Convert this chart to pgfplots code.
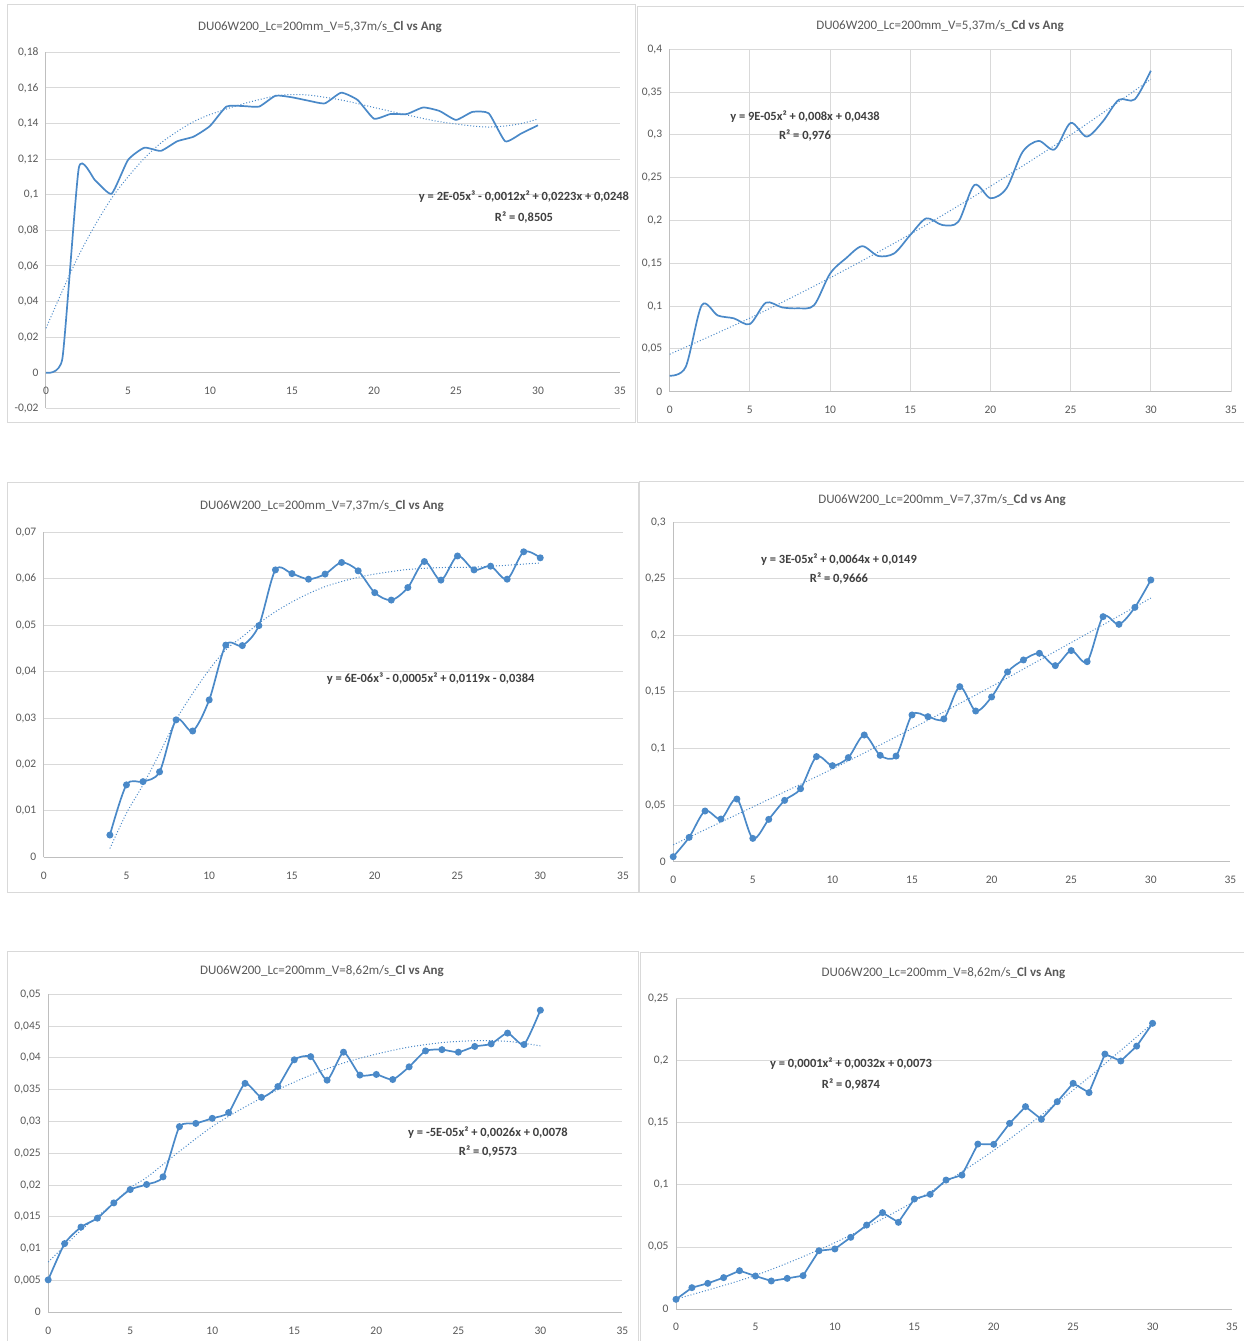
\documentclass[border=0pt]{standalone}
\usepackage{pgfplots}
\pgfplotsset{compat=1.18}
\usepackage{fontspec}
\setmainfont{Carlito}
\definecolor{xl}{HTML}{4A89C8}
\definecolor{gridgray}{HTML}{D9D9D9}
\definecolor{axgray}{HTML}{BFBFBF}
\definecolor{labgray}{HTML}{595959}
\definecolor{eqgray}{HTML}{404040}
\pgfplotsset{
  excel/.style={
    scale only axis,
    anchor=south west,
    axis x line*=middle, axis y line*=left,
    hide obscured x ticks=false, hide obscured y ticks=false,
    axis line style={draw=axgray, line width=1pt},
    ymajorgrids, major grid style={draw=gridgray, line width=1pt},
    major tick length=0pt,
    scaled y ticks=false, scaled x ticks=false,
    xmin=0, xmax=35, xtick={0,5,10,15,20,25,30,35},
    tick label style={font=\fontsize{11.5}{13}\selectfont, text=labgray},
    xticklabel style={yshift=-11pt},
    yticklabel style={xshift=-4pt},
    /pgf/number format/assume math mode=true,
    /pgf/number format/use comma,
    /pgf/number format/fixed,
    /pgf/number format/precision=3,
    clip=false,
  },
  dataline/.style={color=xl, line width=1.7pt},
  trend/.style={color=xl, line width=1pt, dotted, smooth},
  mk/.style={mark=*, mark size=2.6pt, mark options={fill=xl, draw=xl, solid}},
}
\newcommand{\ttl}[1]{\fontsize{13}{15}\selectfont\color{labgray}#1}
\newcommand{\eqf}{\bfseries\fontsize{12.5}{14}\selectfont\color{eqgray}}
\begin{document}
\begin{tikzpicture}[x=1pt,y=1pt]
\useasboundingbox (0,0) rectangle (1244,1341);
\clip (0,0) rectangle (1244,1341);
% chart frames
\draw[gridgray, line width=1pt] (7,918) rectangle (635,1336);
\draw[gridgray, line width=1pt] (637,918) rectangle (1260,1334);
\draw[gridgray, line width=1pt] (7,448) rectangle (638,858);
\draw[gridgray, line width=1pt] (639,448) rectangle (1260,859);
\draw[gridgray, line width=1pt] (7,-5) rectangle (638,389);
\draw[gridgray, line width=1pt] (640,-5) rectangle (1260,388);

% ---------- Panel 1 ----------
\node at (320,1314) {\ttl{DU06W200\_Lc=200mm\_V=5,37m/s\_\textbf{Cl vs Ang}}};
\begin{axis}[excel, at={(46pt,932.7pt)}, width=574pt, height=356pt,
  ymin=-0.02, ymax=0.18,
  ytick={-0.02,0,0.02,0.04,0.06,0.08,0.1,0.12,0.14,0.16,0.18},
  yticklabels={{-0,02},0,{0,02},{0,04},{0,06},{0,08},{0,1},{0,12},{0,14},{0,16},{0,18}}]
\addplot[dataline, smooth, tension=0.3] coordinates {
(0,0) (1,0.008) (2,0.115) (3,0.108) (4,0.1005) (5,0.1195) (6,0.1264) (7,0.1246)
(8,0.13) (9,0.1326) (10,0.1386) (11,0.1495) (12,0.1498) (13,0.1495) (14,0.1556)
(15,0.1547) (16,0.1528) (17,0.1513) (18,0.1573) (19,0.1532) (20,0.1427) (21,0.1453)
(22,0.1453) (23,0.149) (24,0.147) (25,0.142) (26,0.1465) (27,0.1457) (28,0.13)
(29,0.1345) (30,0.139)};
\addplot[trend] coordinates {
(0,0.025) (1,0.046) (2,0.066) (3,0.083) (4,0.098) (5,0.110) (6,0.1205) (7,0.129)
(8,0.1355) (9,0.141) (10,0.145) (12,0.151) (14,0.1555) (15,0.1562) (16,0.156)
(18,0.1532) (20,0.149) (22,0.1448) (24,0.141) (26,0.1386) (27,0.138) (28,0.1386)
(29,0.140) (30,0.1425)};
\end{axis}
\node[font=\eqf] at (524,1144) {y = 2E-05x³ - 0,0012x² + 0,0223x + 0,0248};
\node[font=\eqf] at (524,1124) {R² = 0,8505};

% ---------- Panel 2 ----------
\node at (940,1315) {\ttl{DU06W200\_Lc=200mm\_V=5,37m/s\_\textbf{Cd vs Ang}}};
\begin{axis}[excel, at={(669.7pt,949.3pt)}, width=561.3pt, height=342.4pt,
  ymin=0, ymax=0.4, xmajorgrids,
  ytick={0,0.05,0.1,0.15,0.2,0.25,0.3,0.35,0.4}]
\addplot[dataline, smooth] coordinates {
(0,0.0187) (1,0.029) (2,0.101) (3,0.089) (4,0.0857) (5,0.079) (6,0.104) (7,0.0985)
(8,0.0974) (9,0.101) (10,0.138) (11,0.156) (12,0.170) (13,0.1585) (14,0.1616)
(15,0.183) (16,0.2025) (17,0.1947) (18,0.1986) (19,0.2415) (20,0.226) (21,0.2376)
(22,0.280) (23,0.293) (24,0.283) (25,0.314) (26,0.298) (27,0.3155) (28,0.341)
(29,0.3415) (30,0.375)};
\addplot[trend] coordinates {
(0,0.0438) (5,0.086) (10,0.133) (15,0.184) (20,0.240) (25,0.300) (30,0.365)};
\end{axis}
\node[font=\eqf] at (805,1224) {y = 9E-05x² + 0,008x + 0,0438};
\node[font=\eqf] at (805,1206) {R² = 0,976};

% ---------- Panel 3 ----------
\node at (322,835.3) {\ttl{DU06W200\_Lc=200mm\_V=7,37m/s\_\textbf{Cl vs Ang}}};
\begin{axis}[excel, at={(43.7pt,483.7pt)}, width=579.3pt, height=325pt,
  ymin=0, ymax=0.07,
  ytick={0,0.01,0.02,0.03,0.04,0.05,0.06,0.07}]
\addplot[dataline, smooth, mk] coordinates {
(4,0.0048) (5,0.0156) (6,0.0163) (7,0.0184) (8,0.0296) (9,0.0272) (10,0.0339)
(11,0.0457) (12,0.0456) (13,0.0499) (14,0.0619) (15,0.0611) (16,0.0599) (17,0.0610)
(18,0.0635) (19,0.0617) (20,0.0570) (21,0.0554) (22,0.0581) (23,0.0637) (24,0.0597)
(25,0.0649) (26,0.0619) (27,0.0627) (28,0.0599) (29,0.0658) (30,0.0645)};
\addplot[trend] coordinates {
(4,0.0019) (5,0.0095) (6,0.0156) (7,0.0224) (8,0.0296) (9,0.0353) (10,0.0404)
(11,0.0447) (12,0.0475) (13,0.0504) (14,0.0529) (15,0.055) (16,0.0568) (17,0.0583)
(18,0.0594) (19,0.0603) (20,0.061) (22,0.062) (24,0.0624) (26,0.0625) (28,0.0629)
(30,0.0634)};
\end{axis}
\node[font=\eqf] at (430.6,662) {y = 6E-06x³ - 0,0005x² + 0,0119x - 0,0384};

% ---------- Panel 4 ----------
\node at (942,841) {\ttl{DU06W200\_Lc=200mm\_V=7,37m/s\_\textbf{Cd vs Ang}}};
\begin{axis}[excel, at={(673.2pt,479.3pt)}, width=557.2pt, height=339.4pt,
  ymin=0, ymax=0.3,
  ytick={0,0.05,0.1,0.15,0.2,0.25,0.3}]
\addplot[dataline, smooth, mk] coordinates {
(0,0.0044) (1,0.0215) (2,0.0448) (3,0.0377) (4,0.0554) (5,0.0206) (6,0.0374)
(7,0.0542) (8,0.0645) (9,0.0929) (10,0.0849) (11,0.092) (12,0.112) (13,0.094)
(14,0.0934) (15,0.1297) (16,0.1282) (17,0.1262) (18,0.1547) (19,0.1332) (20,0.1456)
(21,0.1677) (22,0.1783) (23,0.1842) (24,0.1733) (25,0.1866) (26,0.1768) (27,0.2166)
(28,0.2098) (29,0.2248) (30,0.249)};
\addplot[trend] coordinates {
(0,0.0149) (5,0.0484) (10,0.082) (15,0.1177) (20,0.1549) (25,0.1937) (30,0.233)};
\end{axis}
\node[font=\eqf] at (839,781) {y = 3E-05x² + 0,0064x + 0,0149};
\node[font=\eqf] at (839,763) {R² = 0,9666};

% ---------- Panel 5 ----------
\node at (322,370.3) {\ttl{DU06W200\_Lc=200mm\_V=8,62m/s\_\textbf{Cl vs Ang}}};
\begin{axis}[excel, at={(48.2pt,28.7pt)}, width=574.2pt, height=318pt,
  ymin=0, ymax=0.05,
  ytick={0,0.005,0.01,0.015,0.02,0.025,0.03,0.035,0.04,0.045,0.05}]
\addplot[dataline, smooth, tension=0.35, mk] coordinates {
(0,0.0051) (1,0.0108) (2,0.0134) (3,0.0148) (4,0.0172) (5,0.0193) (6,0.0201)
(7,0.0213) (8,0.0292) (9,0.0297) (10,0.0305) (11,0.0314) (12,0.036) (13,0.0338)
(14,0.0355) (15,0.0397) (16,0.0402) (17,0.0365) (18,0.0409) (19,0.0373) (20,0.0374)
(21,0.0366) (22,0.0386) (23,0.0411) (24,0.0413) (25,0.0409) (26,0.0418) (27,0.0422)
(28,0.0439) (29,0.0421) (30,0.0475)};
\addplot[trend] coordinates {
(0,0.0079) (2,0.0129) (4,0.0172) (5,0.0196) (6,0.0212) (8,0.0253) (10,0.0292)
(12,0.0323) (14,0.035) (16,0.0373) (18,0.0392) (20,0.0406) (22,0.0417) (24,0.0424)
(26,0.0427) (28,0.0426) (30,0.0419)};
\end{axis}
\node[font=\eqf] at (488,208.7) {y = -5E-05x² + 0,0026x + 0,0078};
\node[font=\eqf] at (488,189.7) {R² = 0,9573};

% ---------- Panel 6 ----------
\node at (943.5,367.7) {\ttl{DU06W200\_Lc=200mm\_V=8,62m/s\_\textbf{Cl vs Ang}}};
\begin{axis}[excel, at={(676pt,32pt)}, width=556pt, height=310pt,
  ymin=0, ymax=0.25,
  ytick={0,0.05,0.1,0.15,0.2,0.25}]
\addplot[dataline, mk] coordinates {
(0,0.0078) (1,0.0172) (2,0.0207) (3,0.0253) (4,0.0309) (5,0.0266) (6,0.0226)
(7,0.0247) (8,0.0269) (9,0.047) (10,0.0484) (11,0.0578) (12,0.0677) (13,0.0777)
(14,0.0699) (15,0.0887) (16,0.0925) (17,0.104) (18,0.108) (19,0.133) (20,0.1328)
(21,0.1497) (22,0.1632) (23,0.153) (24,0.1672) (25,0.182) (26,0.1745) (27,0.2056)
(28,0.2) (29,0.212) (30,0.2304)};
\addplot[trend] coordinates {
(0,0.008) (5,0.0271) (10,0.0535) (15,0.0868) (20,0.1279) (25,0.1765) (30,0.2304)};
\end{axis}
\node[font=\eqf] at (851,277) {y = 0,0001x² + 0,0032x + 0,0073};
\node[font=\eqf] at (851,257) {R² = 0,9874};
\end{tikzpicture}
\end{document}
